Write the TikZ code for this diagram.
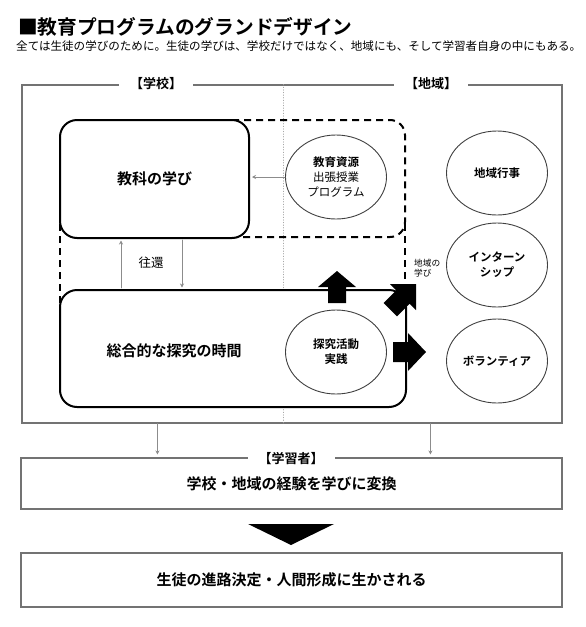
\documentclass[tikz,border=0pt]{standalone}
\usepackage{fontspec}
\setmainfont{Noto Sans CJK JP}[BoldFont={Noto Sans CJK JP Bold}]
\usetikzlibrary{arrows.meta,calc,shapes.geometric}

\begin{document}
\begin{tikzpicture}[x=1pt,y=-1pt,>={Stealth[length=4pt,width=4pt]},line cap=round,
  sotowaku/.style={draw=black!55,line width=1.1pt},
  kado/.style={draw=black,line width=2pt,rounded corners=17pt,fill=white},
  dashline/.style={black,line width=2pt,dash pattern=on 7pt off 5pt,line cap=butt},
  maru/.style={ellipse,draw=black!75,line width=0.9pt,minimum width=101pt,minimum height=84pt,inner sep=0pt,align=center,font=\fontsize{11.5}{15}\selectfont},
  futoji/.style={font=\fontsize{11.5}{15}\selectfont\bfseries},
  midashi/.style={fill=white,inner xsep=11pt,inner ysep=1pt,font=\fontsize{13}{15}\selectfont\bfseries},
  boxtext/.style={font=\fontsize{15}{18}\selectfont\bfseries},
  hoso/.style={draw=black!45,line width=0.8pt}]
\useasboundingbox (0,0) rectangle (586,627);
\node[anchor=west,inner sep=0pt,font=\fontsize{19.7}{22}\selectfont\bfseries] (title) at (18,27) {■教育プログラムのグランドデザイン};
\node[anchor=west,inner sep=0pt,font=\fontsize{11.55}{13}\selectfont] (lead) at (16,46) {全ては生徒の学びのために。生徒の学びは、学校だけではなく、地域にも、そして学習者自身の中にもある。};
\node[sotowaku,minimum width=540pt,minimum height=338pt] (waku) at (292,254) {};
\draw[black!35,line width=0.6pt,dotted] (waku.north -| 283,0) -- (waku.south -| 283,0);
\node[midashi] (gakko) at (156,84) {【学校】};
\node[midashi] (chiiki) at (431,84) {【地域】};
\draw[dashline,rounded corners=15pt] (232,120) -- (405,120) -- (405,237) -- (232,237);
\draw[dashline] (405,224) -- (405,290);
\draw[dashline] (60,224) -- (60,304);
\node[kado,minimum width=189pt,minimum height=118pt,boxtext] (kyoka) at (154.5,179) {教科の学び};
\node[kado,minimum width=346pt,minimum height=117pt] (sogo) at (233,348.5) {};
\node[boxtext] (sogotext) at (174,351) {総合的な探究の時間};
\draw[hoso,->] ($(sogo.north west)+(62,-1)$) -- ($(kyoka.south west)+(62,1.5)$);
\draw[hoso,->] ($(kyoka.south west)+(123,1)$) -- ($(sogo.north west)+(123,-1.5)$);
\node[font=\fontsize{12.5}{14}\selectfont] (okan) at (151,263) {往還};
\node[maru] (shigen) at (336,177) {\textbf{教育資源}\\出張授業\\プログラム};
\draw[hoso,->] (shigen.west) -- ($(shigen.west -| kyoka.east)+(2,0)$);
\node[maru,futoji] (tankyu) at (336,352) {探究活動\\実践};
\node[maru,futoji] (gyoji) at (497,173) {地域行事};
\node[maru,futoji] (intern) at (497,265) {インターン\\シップ};
\node[maru,futoji] (volunteer) at (497,361) {ボランティア};
\node[anchor=west,align=left,inner sep=0pt,font=\fontsize{8.7}{10.5}\selectfont] (chiikimanabi) at (414,268) {地域の\\学び};
\fill (328,303) -- (328,287) -- (318,287) -- (337,271) -- (356,287) -- (346,287) -- (346,303) -- cycle;
\fill (393,342) -- (408,342) -- (408,333) -- (426,352) -- (408,371) -- (408,362) -- (393,362) -- cycle;
\fill (416,284) -- (390,284) -- (396.3,290.3) -- (383.6,303) -- (397,316.4) -- (409.7,303.7) -- (416,310) -- cycle;
\node[sotowaku,minimum width=541pt,minimum height=51pt,boxtext] (henkan) at (291.5,483.5) {学校・地域の経験を学びに変換};
\node[midashi] (gakushu) at (291,459) {【学習者】};
\coordinate (ya1) at ($(waku.south west)+(136,0)$);
\coordinate (ya2) at ($(waku.south west)+(409,0)$);
\draw[hoso,->] (ya1) -- ($(ya1 |- henkan.north)+(0,-3)$);
\draw[hoso,->] (ya2) -- ($(ya2 |- henkan.north)+(0,-3)$);
\fill (248,524) -- (334,524) -- (291,545) -- cycle;
\node[sotowaku,minimum width=541pt,minimum height=54pt,boxtext] (shinro) at (291.5,580) {生徒の進路決定・人間形成に生かされる};
\end{tikzpicture}
\end{document}
